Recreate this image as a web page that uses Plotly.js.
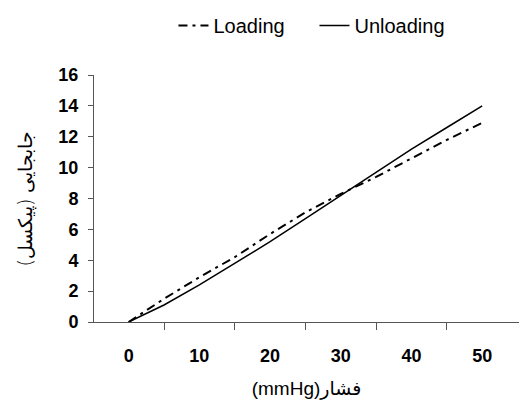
<!DOCTYPE html>
<html>
<head>
<meta charset="utf-8">
<script src="https://cdn.plot.ly/plotly-3.0.1.min.js"></script>
<style>html,body{margin:0;padding:0;background:#fff}#chart{width:519px;height:408px}</style>
</head>
<body>
<div id="chart"></div>
<script>
const pressure = [0, 5, 10, 15, 20, 25, 30, 35, 40, 45, 50];
const loading = [0, 1.5, 2.9, 4.2, 5.7, 7.1, 8.3, 9.4, 10.6, 11.8, 12.9];
const unloading = [0, 1.1, 2.4, 3.8, 5.2, 6.7, 8.2, 9.7, 11.2, 12.6, 14.0];
const xTickVals = [0, 10, 20, 30, 40, 50];
const xTickText = ['0', '10', '20', '30', '40', '50'];
const xMinorTicks = [5, 15, 25, 35, 45];
const yTickVals = [0, 2, 4, 6, 8, 10, 12, 14, 16];

const traces = [
  {x: pressure, y: loading, name: 'Loading', mode: 'lines', type: 'scatter',
   line: {color: '#000', width: 2, dash: '9px,5px,3px,5px'}},
  {x: pressure, y: unloading, name: 'Unloading', mode: 'lines', type: 'scatter',
   line: {color: '#000', width: 1.5}}
];

const layout = {
  width: 519, height: 408,
  margin: {l: 94, r: 0, t: 75, b: 86},
  paper_bgcolor: '#fff', plot_bgcolor: '#fff',
  font: {family: 'Arial, Liberation Sans, DejaVu Sans, sans-serif', color: '#000'},
  showlegend: true,
  legend: {orientation: 'h', x: 0.187, xanchor: 'left', y: 1.2, yanchor: 'middle',
           font: {size: 20, color: '#000'}, itemwidth: 30, tracegroupgap: 0,
           entrywidth: 96, entrywidthmode: 'pixels'},
  xaxis: {
    range: [-4.9, 55.2], showgrid: false, zeroline: false,
    showline: true, linecolor: '#555', linewidth: 1,
    tickmode: 'array', tickvals: xTickVals, ticktext: xTickText,
    ticks: 'outside', ticklen: 0, ticklabelstandoff: 17,
    tickfont: {size: 18, family: 'Arial, Liberation Sans, sans-serif', weight: 'bold'},
    minor: {tickmode: 'array', tickvals: xMinorTicks, ticks: 'outside', ticklen: 7, tickcolor: '#555', showgrid: false},
    title: {text: '(mmHg)فشار', font: {size: 19, family: 'Arial, DejaVu Sans, sans-serif'}, standoff: 17}
  },
  yaxis: {
    range: [0, 16], showgrid: false, zeroline: false,
    showline: true, linecolor: '#555', linewidth: 1,
    tickmode: 'array', tickvals: yTickVals,
    ticks: 'outside', ticklen: 5, tickcolor: '#555', ticklabelstandoff: 6,
    tickfont: {size: 18, family: 'Arial, Liberation Sans, sans-serif', weight: 'bold'},
    title: {text: 'جابجایی (پیکسل)', font: {size: 19, family: 'DejaVu Sans, sans-serif', weight: 300}, standoff: 20}
  }
};

Plotly.newPlot('chart', traces, layout, {displayModeBar: false, staticPlot: true});
</script>
</body>
</html>
